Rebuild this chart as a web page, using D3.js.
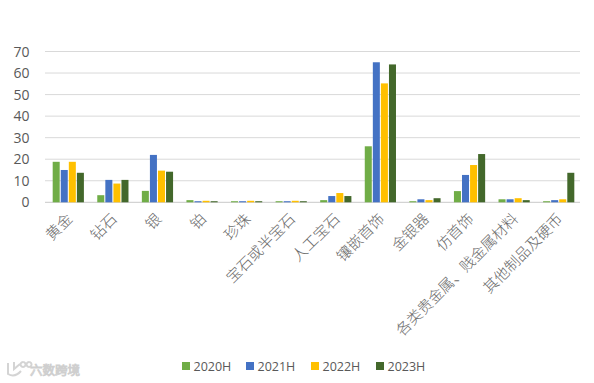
<!DOCTYPE html>
<html>
<head>
<meta charset="utf-8">
<script src="https://cdn.jsdelivr.net/npm/d3@7"></script>
<style>
    html, body { margin: 0; padding: 0; background: #fff; }
    svg { display: block; }
    text { font-family: "Open Sans", "Noto Sans", sans-serif; fill: #595959; }
    .cat text { font-family: "Noto Sans CJK SC", sans-serif; font-weight: 300; fill: #6a6a6a; }
</style>
</head>
<body>
<div id="graph"></div>
<script>
const categories = ['黄金', '钻石', '银', '铂', '珍珠', '宝石或半宝石', '人工宝石', '镶嵌首饰', '金银器', '仿首饰', '各类贵金属、贱金属材料', '其他制品及硬币'];
const seriesNames = ['2020H', '2021H', '2022H', '2023H'];
const values2020 = [18.8, 3.3, 5.3, 1, 0.5, 0.5, 1, 26, 0.5, 5.2, 1.4, 0.5];
const values2021 = [15, 10.4, 22, 0.5, 0.5, 0.5, 2.9, 65, 1.4, 12.7, 1.4, 1];
const values2022 = [18.8, 8.7, 14.7, 0.7, 0.7, 0.7, 4.3, 55.2, 1, 17.3, 1.9, 1.4];
const values2023 = [13.7, 10.4, 14.2, 0.5, 0.5, 0.5, 2.9, 64, 1.9, 22.4, 1, 13.7];
const yTicks = [0, 10, 20, 30, 40, 50, 60, 70];
const colors = ['#70ad47', '#4472c4', '#ffc000', '#43682b'];
const watermarkText = '六数跨境';

const allValues = [values2020, values2021, values2022, values2023];
const width = 594, height = 383;
const left = 45, right = 580, top0 = 51.5, bottom0 = 202.3;

const svg = d3.select('#graph').append('svg')
    .attr('width', width)
    .attr('height', height);

const scaleX = d3.scaleBand().domain(categories).range([left + 1, right + 1]).paddingInner(0.3).paddingOuter(0.15);
const scaleSeries = d3.scaleBand().domain(seriesNames).range([0, scaleX.bandwidth()]).paddingInner(0.13);
const scaleY = d3.scaleLinear().domain([0, 70]).range([bottom0, top0]);

// gridlines
svg.append('g')
    .selectAll('line')
    .data(yTicks)
    .enter()
    .append('line')
        .attr('x1', left)
        .attr('x2', right)
        .attr('y1', d => scaleY(d))
        .attr('y2', d => scaleY(d))
        .attr('stroke', d => d === 0 ? '#c8c8c8' : '#d9d9d9')
        .attr('stroke-width', 1);

// y tick labels
svg.append('g')
    .selectAll('text')
    .data(yTicks)
    .enter()
    .append('text')
        .attr('x', 29.5)
        .attr('y', d => scaleY(d) + 5)
        .attr('text-anchor', 'end')
        .style('font-size', '14px')
        .text(d => d);

// bars
seriesNames.forEach((name, s) => {
    svg.append('g')
        .selectAll('rect')
        .data(allValues[s])
        .enter()
        .append('rect')
            .attr('x', (d, i) => scaleX(categories[i]) + scaleSeries(name))
            .attr('y', d => scaleY(d))
            .attr('width', scaleSeries.bandwidth())
            .attr('height', d => scaleY(0) - scaleY(d))
            .attr('fill', colors[s]);
});

// category labels, rotated
svg.append('g')
    .attr('class', 'cat')
    .selectAll('text')
    .data(categories)
    .enter()
    .append('text')
        .attr('text-anchor', 'end')
        .attr('transform', d => `translate(${ scaleX(d) + scaleX.bandwidth() / 2 + 5 }, 220) rotate(-45)`)
        .style('font-size', '15px')
        .text(d => d);

// legend
const legendX = [182, 246, 311, 376];
const legend = svg.append('g')
    .selectAll('g')
    .data(seriesNames)
    .enter()
    .append('g')
        .attr('transform', (d, i) => `translate(${ legendX[i] }, 362)`);
legend.append('rect')
    .attr('width', 8)
    .attr('height', 8)
    .attr('fill', (d, i) => colors[i]);
legend.append('text')
    .attr('x', 11.5)
    .attr('y', 8.5)
    .style('font-size', '12.5px')
    .text(d => d);

// watermark
const mark = svg.append('g').attr('transform', 'translate(7, 363)');
mark.append('path')
    .attr('d', 'M1 0 V11 Q8 15 14 8 M7 -1 V6 L13 1 M16 -1 a2.5 2.5 0 1 0 0.1 0 M22 -1 a2.5 2.5 0 1 0 0.1 0')
    .attr('fill', 'none')
    .attr('stroke', '#d4d4d4')
    .attr('stroke-width', 2);
mark.append('text')
    .attr('x', 23)
    .attr('y', 12)
    .style('font-family', '"Noto Sans CJK SC", sans-serif')
    .style('font-size', '12.5px')
    .style('fill', '#fff')
    .style('stroke', '#cfcfcf')
    .style('stroke-width', '0.9px')
    .text(watermarkText);
</script>
</body>
</html>
